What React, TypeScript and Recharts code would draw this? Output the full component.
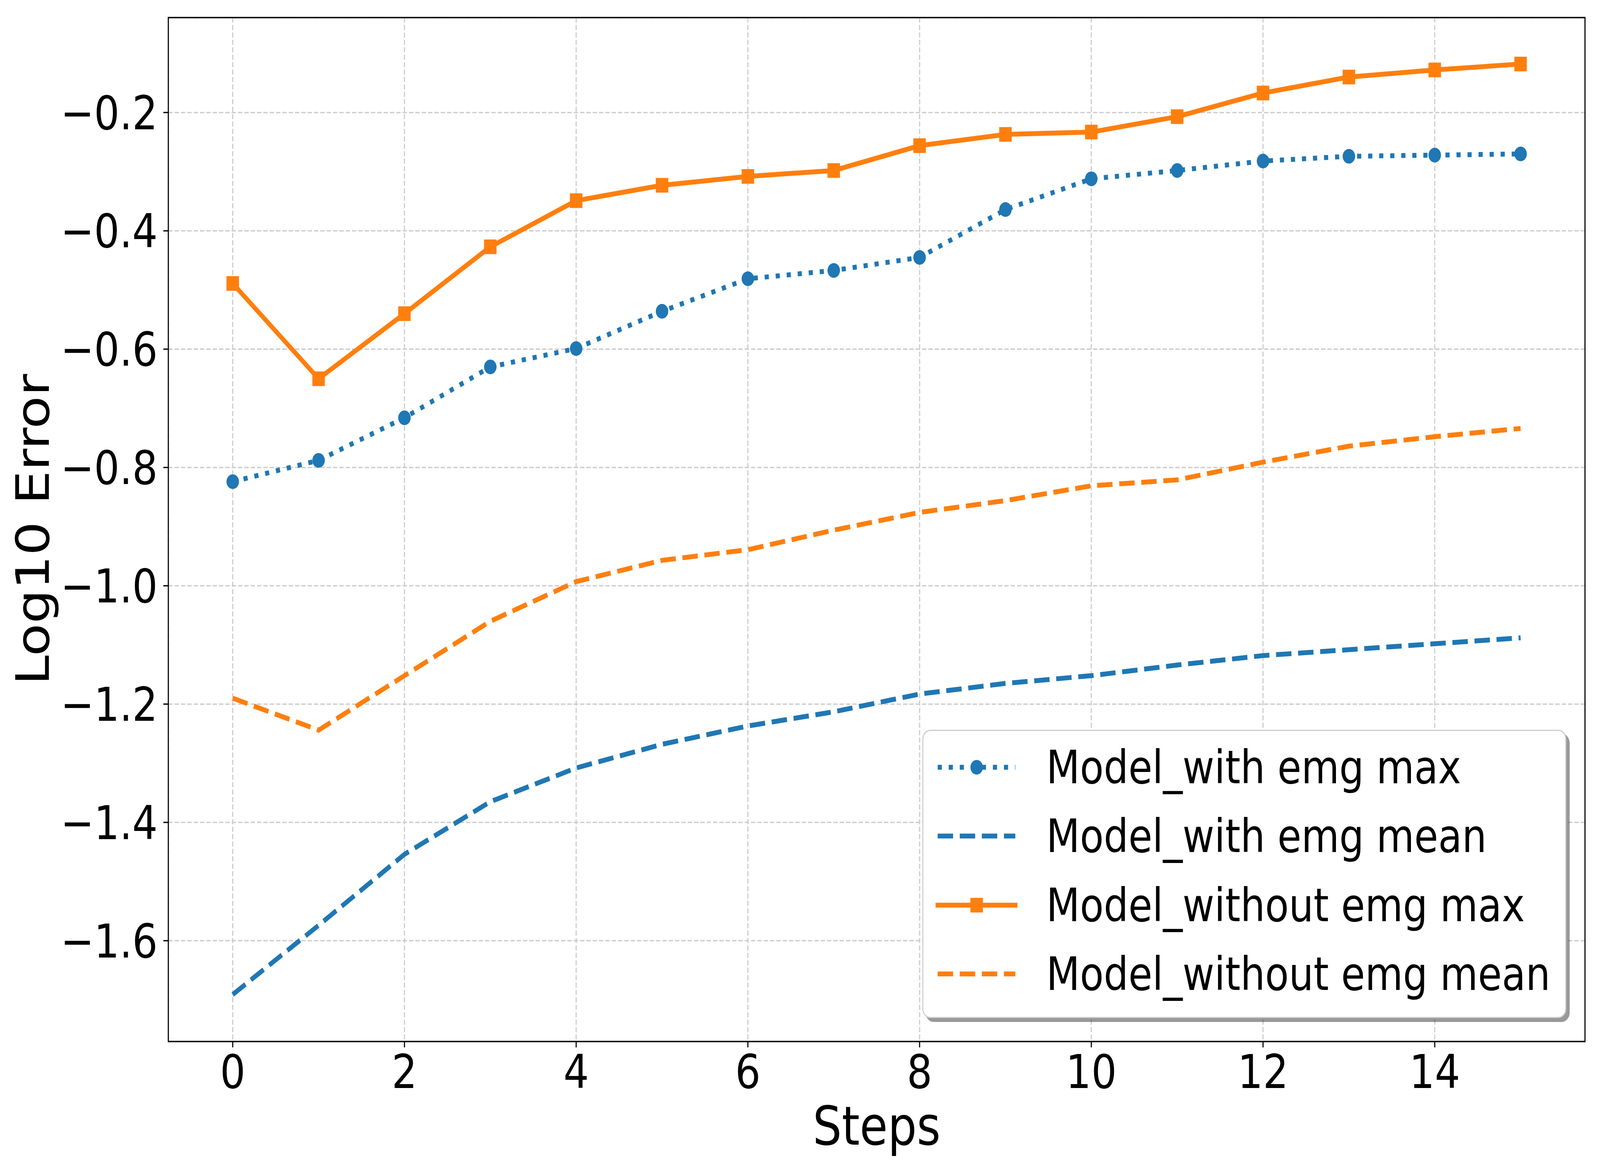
import React from 'react';
import { LineChart, Line, XAxis, YAxis, CartesianGrid, Legend, ReferenceArea, Label } from 'recharts';

const steps = [0, 1, 2, 3, 4, 5, 6, 7, 8, 9, 10, 11, 12, 13, 14, 15];
const withMax = [-0.824, -0.788, -0.716, -0.630, -0.599, -0.536, -0.481, -0.467, -0.445, -0.364, -0.312, -0.298, -0.282, -0.274, -0.272, -0.270];
const withMean = [-1.691, -1.574, -1.454, -1.365, -1.308, -1.268, -1.237, -1.213, -1.183, -1.165, -1.152, -1.134, -1.118, -1.108, -1.098, -1.088];
const withoutMax = [-0.489, -0.650, -0.540, -0.427, -0.349, -0.323, -0.308, -0.298, -0.256, -0.237, -0.233, -0.207, -0.167, -0.140, -0.128, -0.118];
const withoutMean = [-1.190, -1.244, -1.152, -1.060, -0.993, -0.957, -0.939, -0.906, -0.876, -0.856, -0.831, -0.821, -0.791, -0.764, -0.748, -0.734];

const xTicks = [0, 2, 4, 6, 8, 10, 12, 14];
const yTicks = [-1.6, -1.4, -1.2, -1.0, -0.8, -0.6, -0.4, -0.2];
const xDomain: [number, number] = [-0.75, 15.75];
const yDomain: [number, number] = [-1.7704, -0.0395];

const seriesNames = ['Model_with emg max', 'Model_with emg mean', 'Model_without emg max', 'Model_without emg mean'];

const BLUE = '#1f77b4';
const ORANGE = '#ff7f0e';
const FONT = 'DejaVu Sans';
const LW = 12.5;
const DASHED = `${3.7 * LW} ${1.6 * LW}`;
const DOTTED = `${1 * LW} ${1.65 * LW}`;
const MS = 37.5;

// The reference is 4800 wide; the viewport is narrower, so the drawing is squeezed horizontally to fit.
const DESIGN_W = 4800;
const DESIGN_H = 3000;

const data = steps.map((s, i) => ({
  step: s,
  withMax: withMax[i],
  withMean: withMean[i],
  withoutMax: withoutMax[i],
  withoutMean: withoutMean[i],
}));

const fmtY = (v: number) => (v < 0 ? '\u2212' : '') + Math.abs(v).toFixed(1);
const fmtX = (v: number) => String(Math.round(v));

const SquareDot = (props: any) => {
  const { cx, cy, index } = props;
  if (cx == null || cy == null) return <g key={`sq-${index}`} />;
  return <rect key={`sq-${index}`} x={cx - MS / 2} y={cy - MS / 2} width={MS} height={MS} fill={ORANGE} stroke="none" />;
};

const legendStyles = [
  { color: BLUE, dash: DOTTED, marker: 'circle' },
  { color: BLUE, dash: DASHED, marker: 'none' },
  { color: ORANGE, dash: undefined, marker: 'square' },
  { color: ORANGE, dash: DASHED, marker: 'none' },
];

const renderLegend = (props: any) => {
  const payload = props.payload || [];
  const rowY = [96, 272, 449, 625];
  return (
    <div
      style={{
        position: 'relative',
        width: 1932,
        height: 738,
        boxSizing: 'border-box',
        border: '3px solid #cccccc',
        borderRadius: 24,
        background: '#ffffff',
        boxShadow: '10px 10px 0 rgba(0,0,0,0.4)',
      }}
    >
      <svg width={1932} height={738} style={{ position: 'absolute', left: -3, top: -3 }}>
        {seriesNames.map((name, i) => {
          const st = legendStyles[i];
          const y = rowY[i];
          const label = (payload[i] && payload[i].value) || name;
          return (
            <g key={name}>
              <line
                x1={46}
                x2={279}
                y1={y}
                y2={y}
                stroke={st.color}
                strokeWidth={LW}
                strokeDasharray={st.dash}
                strokeLinecap={st.dash ? 'butt' : 'square'}
              />
              {st.marker === 'circle' && <circle cx={163} cy={y} r={MS / 2} fill={st.color} />}
              {st.marker === 'square' && <rect x={163 - MS / 2} y={y - MS / 2} width={MS} height={MS} fill={st.color} />}
              <text x={372} y={y + 41} fontFamily={FONT} fontSize={116.7} fill="#000">
                {label}
              </text>
            </g>
          );
        })}
      </svg>
    </div>
  );
};

export default function App() {
  const [vw, setVw] = React.useState<number>(typeof window !== 'undefined' ? window.innerWidth : DESIGN_W);
  const [vh, setVh] = React.useState<number>(typeof window !== 'undefined' ? window.innerHeight : DESIGN_H);
  React.useEffect(() => {
    const onResize = () => {
      setVw(window.innerWidth);
      setVh(window.innerHeight);
    };
    window.addEventListener('resize', onResize);
    return () => window.removeEventListener('resize', onResize);
  }, []);
  const sx = Math.min(1, vw / DESIGN_W);
  const sy = Math.min(1, vh / DESIGN_H);
  return (
    <div style={{ position: 'absolute', left: 0, top: 0, width: DESIGN_W * sx, height: DESIGN_H * sy, overflow: 'hidden', background: '#fff' }}>
      <div style={{ width: DESIGN_W, height: DESIGN_H, transform: `scale(${sx}, ${sy})`, transformOrigin: '0 0', background: '#fff' }}>
        <LineChart width={DESIGN_W} height={DESIGN_H} data={data} margin={{ top: 45, right: 45, left: 0, bottom: 0 }}>
          <CartesianGrid stroke="#cbcbcb" strokeWidth={3.3} strokeDasharray="13 6" />
          <XAxis
            dataKey="step"
            type="number"
            domain={xDomain}
            ticks={xTicks}
            interval={0}
            allowDataOverflow
            height={334}
            tickSize={15}
            tickMargin={19}
            axisLine={false}
            tickLine={{ stroke: '#000', strokeWidth: 3.3 }}
            tick={{ fill: '#000', fontSize: 120, fontFamily: FONT }}
            tickFormatter={fmtX}
          >
            <Label
              content={(p: any) => {
                const vb = p.viewBox || {};
                const cx = (vb.x ?? 505) + (vb.width ?? 4250) / 2;
                return (
                  <text x={cx} y={2930} textAnchor="middle" fontFamily={FONT} fontSize={137} fill="#000">
                    Steps
                  </text>
                );
              }}
            />
          </XAxis>
          <YAxis
            type="number"
            domain={yDomain}
            ticks={yTicks}
            interval={0}
            allowDataOverflow
            width={505}
            tickSize={15}
            tickMargin={17}
            axisLine={false}
            tickLine={{ stroke: '#000', strokeWidth: 3.3 }}
            tick={{ fill: '#000', fontSize: 120, fontFamily: FONT }}
            tickFormatter={fmtY}
          >
            <Label
              content={(p: any) => {
                const vb = p.viewBox || {};
                const cy = (vb.y ?? 45) + (vb.height ?? 2621) / 2;
                const cx = 146;
                return (
                  <text x={cx} y={cy} textAnchor="middle" transform={`rotate(-90, ${cx}, ${cy})`} fontFamily={FONT} fontSize={137} fill="#000">
                    Log10 Error
                  </text>
                );
              }}
            />
          </YAxis>
          <Line
            dataKey="withMax"
            name={seriesNames[0]}
            stroke={BLUE}
            strokeWidth={LW}
            strokeDasharray={DOTTED}
            dot={{ r: MS / 2, fill: BLUE, stroke: 'none', strokeWidth: 0 }}
            activeDot={false}
            isAnimationActive={false}
          />
          <Line
            dataKey="withMean"
            name={seriesNames[1]}
            stroke={BLUE}
            strokeWidth={LW}
            strokeDasharray={DASHED}
            dot={false}
            activeDot={false}
            isAnimationActive={false}
          />
          <Line
            dataKey="withoutMax"
            name={seriesNames[2]}
            stroke={ORANGE}
            strokeWidth={LW}
            strokeLinejoin="round"
            dot={SquareDot}
            activeDot={false}
            isAnimationActive={false}
          />
          <Line
            dataKey="withoutMean"
            name={seriesNames[3]}
            stroke={ORANGE}
            strokeWidth={LW}
            strokeDasharray={DASHED}
            dot={false}
            activeDot={false}
            isAnimationActive={false}
          />
          <ReferenceArea
            x1={xDomain[0]}
            x2={xDomain[1]}
            y1={yDomain[0]}
            y2={yDomain[1]}
            fill="none"
            fillOpacity={0}
            stroke="#000"
            strokeWidth={3.3}
            ifOverflow="visible"
          />
          <Legend
            layout="vertical"
            align="center"
            verticalAlign="middle"
            content={renderLegend}
            wrapperStyle={{ position: 'absolute', left: 2767, top: 1868, width: 1932, height: 738 }}
          />
        </LineChart>
      </div>
    </div>
  );
}
